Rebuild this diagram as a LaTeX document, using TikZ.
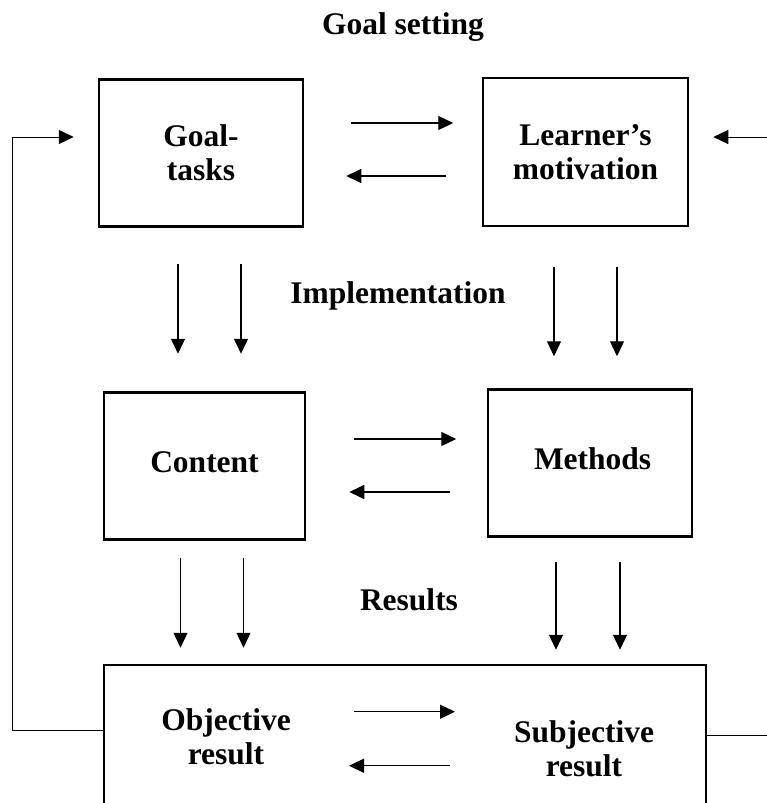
\documentclass[tikz,border=0pt]{standalone}
\usepackage{fontspec}
\setmainfont{Liberation Serif}
\usepackage{tikz}
\usetikzlibrary{arrows.meta}

\begin{document}
\begin{tikzpicture}[x=1pt,y=-1pt,
    every node/.style={align=center,font=\fontsize{31.5}{34}\selectfont\bfseries},
    box/.style={draw,line width=2.5pt,minimum width=204pt,minimum height=147pt,inner sep=0pt},
    flow/.style={line width=1.3pt,-{Triangle[length=15pt,width=14pt]}},
    loop/.style={line width=1pt}]
  \useasboundingbox (0,0) rectangle (767,803);
  \clip (0,0) rectangle (767,803);
  % headings
  \node (setting) at (403,27) {Goal setting};
  \node (impl) at (398,296) {Implementation};
  \node (results) at (409,600) {Results};
  % boxes
  \node[box] (goal) at (201,153) {Goal-\\tasks};
  \node[box,minimum width=205pt,minimum height=148pt] (learner) at (585.5,152) {Learner's\\motivation};
  \node[box,minimum width=201pt] (content) at (204.5,466) {\raisebox{8pt}{Content}};
  \node[box] (methods) at (590,463) {\raisebox{8pt}{\,Methods}};
  \node[box,minimum width=602pt,minimum height=200pt] (res) at (405,765) {};
  \node (obj) at (226,737) {Objective\\result};
  \node (subj) at (584,749) {Subjective\\result};
  % goal <-> learner
  \draw[flow] ([shift={(47,-30)}]goal.east) -- ++(102,0);
  \draw[flow] ([shift={(142,23)}]goal.east) -- ++(-100,0);
  \draw[flow] ([shift={(-23,36)}]goal.south) -- ++(0,90);
  \draw[flow] ([shift={(40,36)}]goal.south) -- ++(0,90);
  \draw[flow] ([shift={(-31.5,40)}]learner.south) -- ++(0,89);
  \draw[flow] ([shift={(31.5,40)}]learner.south) -- ++(0,89);
  % content <-> methods
  \draw[flow] ([shift={(48,-27)}]content.east) -- ++(102,0);
  \draw[flow] ([shift={(144,26)}]content.east) -- ++(-101,0);
  \draw[flow] ([shift={(-24,17)}]content.south) -- ++(0,90);
  \draw[flow] ([shift={(39,17)}]content.south) -- ++(0,90);
  \draw[flow] ([shift={(-34,24)}]methods.south) -- ++(0,88);
  \draw[flow] ([shift={(30,24)}]methods.south) -- ++(0,88);
  % objective <-> subjective
  \draw[flow] ([shift={(-51,48)}]res.north) -- ++(101,0);
  \draw[flow] ([shift={(45,102)}]res.north) -- ++(-101,0);
  % feedback lines
  \draw[loop,-{Triangle[length=15pt,width=14pt]}] ([shift={(0,67)}]res.north west) -- ++(-90,0) |- ([shift={(-24,-16)}]goal.west);
  \draw[loop] ([shift={(0,72)}]res.north east) -- ++(61,0);
  \draw[flow,line width=1pt] ([shift={(79,-15)}]learner.east) -- ++(-55,0);
\end{tikzpicture}
\end{document}
